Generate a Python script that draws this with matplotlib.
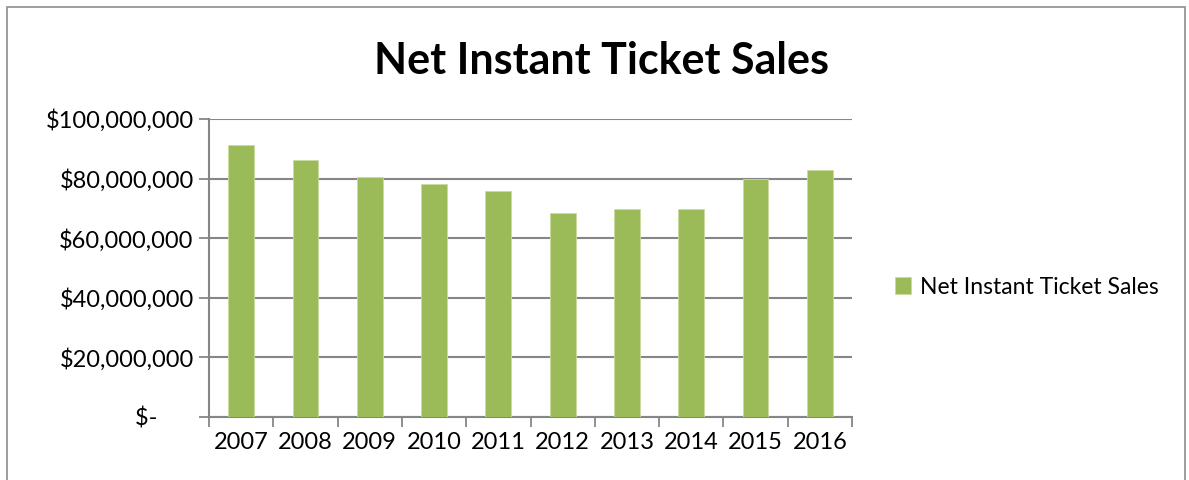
import matplotlib
matplotlib.use("Agg")
import matplotlib.pyplot as plt
from matplotlib.patches import Rectangle
from matplotlib.ticker import FuncFormatter, FixedLocator
import numpy as np

years = ["2007", "2008", "2009", "2010", "2011", "2012", "2013", "2014", "2015", "2016"]
sales = [91.3e6, 86.4e6, 80.4e6, 78.3e6, 75.7e6, 68.6e6, 69.8e6, 69.7e6, 79.9e6, 83.0e6]
series_name = "Net Instant Ticket Sales"
title = "Net Instant Ticket Sales"

plt.rcParams['font.family'] = ['Lato', 'DejaVu Sans']

fig = plt.figure(figsize=(11.89, 4.8), dpi=100)
fig.patches.append(Rectangle((7/1189, -0.05), (1185-7)/1189, 1.05-7/480, transform=fig.transFigure,
                             fill=False, edgecolor='#8c8c8c', linewidth=1.2))

ax = fig.add_axes([209/1189, 1-417/480, (852-209)/1189, (417-119)/480])
x = np.arange(len(years))
bars = ax.bar(x, sales, width=0.4, color='#9bbb59', edgecolor='#c9dba0', linewidth=0.6,
              label=series_name, zorder=3)
ax.set_xlim(-0.5, len(years) - 0.5)
ax.set_ylim(0, 100e6)
ax.set_yticks(np.arange(0, 100e6 + 1, 20e6))

def fmt(v, pos):
    if v == 0:
        return "$-      "
    return "${:,.0f}".format(v)

ax.yaxis.set_major_formatter(FuncFormatter(fmt))
ax.yaxis.grid(True, color='#868686', linewidth=1.5, zorder=0)
ax.set_axisbelow(True)

ax.set_xticks(x)
ax.set_xticklabels(years)
ax.tick_params(axis='x', which='major', length=0, labelsize=17, pad=11, colors='black')
ax.xaxis.set_minor_locator(FixedLocator(np.arange(-0.5, len(years), 1.0)))
ax.tick_params(axis='x', which='minor', length=7, width=1.3, color='#868686')
ax.tick_params(axis='y', length=7, width=1.3, color='#868686', labelsize=17, pad=4)

for s in ['top', 'right']:
    ax.spines[s].set_visible(False)
ax.spines['left'].set_color('#868686')
ax.spines['left'].set_linewidth(1.5)
ax.spines['bottom'].set_color('#868686')
ax.spines['bottom'].set_linewidth(1.5)

fig.text(602/1189, 1-61/480, title, ha='center', va='center', fontsize=31, fontweight='bold')

fig.legend(handles=[bars], labels=[series_name], loc='center left',
           bbox_to_anchor=(874/1189, 1-287/480), frameon=False, fontsize=16.5,
           handlelength=0.7, handleheight=0.7, handletextpad=0.4)

fig.savefig("out.png", dpi=100)
